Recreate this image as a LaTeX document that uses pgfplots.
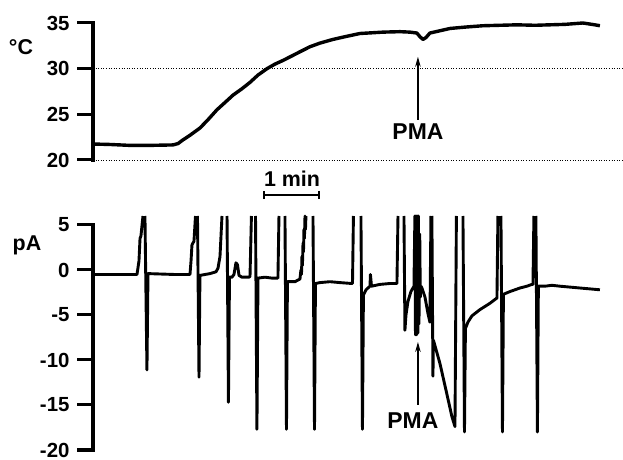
\documentclass[border=0pt]{standalone}
\usepackage{fontspec}
\setmainfont{Liberation Sans}
\usepackage{pgfplots}
\pgfplotsset{compat=1.18}
\usetikzlibrary{arrows.meta}
\pgfplotsset{trace/.style={
  scale only axis, width=530bp, xmin=0, xmax=558,
  axis x line=none, axis y line=left,
  axis line style={-, line width=3.4bp, black},
  tick align=outside, major tick length=16bp,
  every tick/.append style={line width=3bp, black},
  ytick style={line width=3bp, black},
  /pgf/number format/assume math mode=true,
  yticklabel style={font=\fontsize{20.5}{21}\selectfont\bfseries, xshift=-4bp},
  clip=false, unbounded coords=jump,
}}
\begin{document}
\begin{tikzpicture}
\useasboundingbox (0,0) rectangle (623bp,460bp);
% ---------------- temperature ----------------
\begin{axis}[trace, at={(93bp,300bp)}, anchor=south west, height=137bp,
  ymin=20, ymax=35, ytick={20,25,30,35}]
\draw[dotted, line width=0.6bp] (axis cs:0,30) -- (axis cs:558,30);
\draw[dotted, line width=0.6bp] (axis cs:0,20) -- (axis cs:558,20);
\draw[line width=3.4bp, line cap=rect] (rel axis cs:0,0) -- (rel axis cs:0,1);
\addplot[black, line width=3.4bp, line join=round] coordinates {
(0,21.75) (17.9,21.7) (38.9,21.6) (60,21.6) (84.2,21.65) (89.5,21.8) (94.7,22.2)
(102,22.7) (112.6,23.5) (121,24.4) (130.5,25.5) (139,26.3) (147.4,27.1)
(156.8,27.8) (165.3,28.5) (173.7,29.3) (183.2,30.0) (191.6,30.5) (200,30.9)
(209.5,31.4) (217.9,31.85) (228.4,32.4) (239,32.8) (252.6,33.2) (265.3,33.5)
(281,33.85) (305.3,34.0) (323.2,34.05) (333.7,34.0) (341,33.9) (344.2,33.5)
(347.4,33.2) (350.5,33.4) (354.7,33.9) (365.3,34.15) (375.8,34.4) (391.6,34.55)
(410.5,34.7) (428.4,34.75) (446.3,34.8) (465.3,34.75) (481,34.8) (496.8,34.85)
(515.8,35.0) (528.4,34.8) (533.7,34.7)
};
\draw[line width=1.2bp, -{Stealth[length=10bp,width=5.5bp]}] (axis cs:342.1,24.4) -- (axis cs:342.1,31.3);
\node at (axis cs:342.1,23.07) {\fontsize{23}{23}\selectfont\bfseries PMA};
\draw[line width=1.8bp, {Bar[width=8bp]}-{Bar[width=8bp]}] (axis cs:179,16.17) -- (axis cs:239,16.17);
\node at (axis cs:209.5,18.0) {\fontsize{21.5}{21}\selectfont\bfseries 1 min};
\end{axis}
% ---------------- current ----------------
\begin{axis}[trace, at={(93bp,10bp)}, anchor=south west, height=225bp,
  ymin=-20, ymax=5, ytick={-20,-15,-10,-5,0,5}]
\draw[line width=3.4bp, line cap=rect] (rel axis cs:0,0) -- (rel axis cs:0,1);
\addplot[black, line width=2.9bp, line join=round] coordinates {
(2.1,-0.5) (46.3,-0.5) (48.4,1.0) (49.5,3.5) (50.5,3.8) (52.6,6) (53.5,nan) (54.7,6) (56.8,-11.1) (57.9,-0.4)
(86.3,-0.5) (102.1,-0.5) (103.2,1.0) (104.2,2.8) (106.3,3.2) (107.9,6) (109,nan) (110.0,6) (111.6,-11.9) (112.6,-0.6)
(123.2,-0.4) (129.5,-0.2) (131.6,0.2) (133.7,1.5) (135.8,6) (138,nan) (141.1,6) (142.6,-14.7) (143.7,-0.8)
(146.3,-0.8) (148.4,-0.5) (150.5,0.8) (152.1,0.6) (153.7,-0.6) (156.8,-0.8) (164.2,-0.8)
(165.3,-0.7) (166.8,6) (169,nan) (171.1,6) (172.6,-17.7) (173.7,-0.9)
(181.1,-0.8) (188.4,-0.9) (193.7,-0.9)
(194.7,-0.9) (195.8,6) (199,nan) (202.1,6) (203.7,-17.7) (204.7,-1.3)
(212.6,-1.3) (217.9,-1.0) (218.9,0) (219.5,-0.5) (220.0,1.5) (220.5,0.5) (221.1,3) (221.6,2)
(222.1,4.5) (222.6,3.5) (223.2,6) (223.7,4.5) (224.2,6) (226,nan) (231.6,6) (233.2,-17.7) (234.2,-1.5)
(238.9,-1.4) (249.5,-1.3) (260.0,-1.4) (272.6,-1.5)
(273.2,-1.5) (274.2,6) (278,nan) (282.1,6) (283.7,-17.7) (284.7,-2.8)
(287.4,-2.2) (291.6,-1.8) (292.1,-0.5) (293.2,-1.8) (302.1,-1.6) (312.6,-1.5) (318.9,-1.5)
(320.0,-1.5) (321.1,6) (324,nan) (327.4,6) (328.4,-6.7) (329.5,-5) (331.6,-3.5) (334.7,-2.4) (337.9,-1.8)
(338.9,6) (339.5,-7.2) (340.2,6) (340.8,-7.2) (341.4,6) (342.0,-7.0) (342.6,6) (343.2,-6.0) (344.0,4) (344.6,-3) (345.3,-1.8)
(346.3,-2.0) (349.5,-3.0) (352.6,-4.8) (354.7,-5.8)
(355.8,6) (356.3,nan) (356.8,6) (357.9,-11.8) (358.4,-7.8)
(365.3,-10.4) (372.6,-13.8) (377.9,-16.3) (381.1,-17.4)
(382.6,6) (386,nan) (389.5,6) (391.1,-18) (392.1,-6.5)
(394.7,-5.8) (398.9,-5.1) (407.4,-4.4) (417.9,-3.7) (424.2,-3.2)
(425.3,-3.1) (426.3,6) (428,nan) (429.5,6) (431.1,-18) (432.1,-2.7)
(438.9,-2.4) (449.5,-2.0) (456.8,-1.8) (462.1,-1.6)
(463.2,-1.6) (464.2,6) (465.2,nan) (466.3,6) (467.9,-18) (468.9,-1.8)
(475.8,-1.8) (483.2,-1.7) (491.6,-1.8) (502.1,-1.9) (512.6,-2.0) (523.2,-2.1) (533.7,-2.2)
};
\draw[line width=1.2bp, -{Stealth[length=10bp,width=5.5bp]}] (axis cs:342.1,-15.0) -- (axis cs:342.1,-8.0);
\node at (axis cs:336.8,-16.7) {\fontsize{23}{23}\selectfont\bfseries PMA};
\end{axis}
\node at (21bp,413bp) {\fontsize{21.5}{21}\selectfont\bfseries °C};
\node at (27bp,215bp) {\fontsize{21.5}{21}\selectfont\bfseries pA};
\end{tikzpicture}
\end{document}
